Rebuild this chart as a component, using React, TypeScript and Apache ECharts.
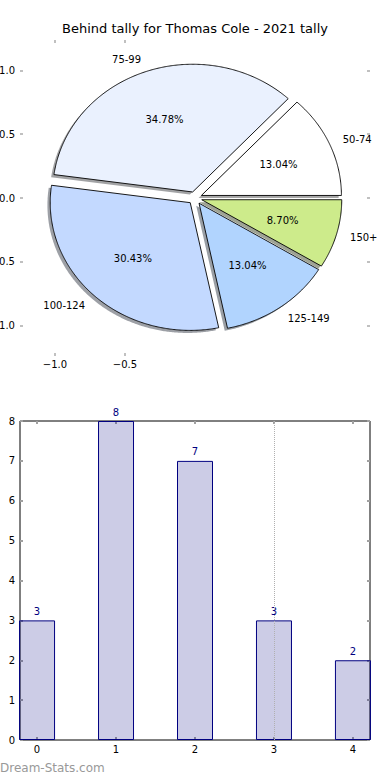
import React, { useEffect, useRef } from "react";
import * as echarts from "echarts";

const TITLE = "Behind tally for Thomas Cole - 2021 tally";
const WATERMARK = "Dream-Stats.com";

const pieLabels = ["50-74", "75-99", "100-124", "125-149", "150+"];
const pieValues = [3, 8, 7, 3, 2];
const pieColors = ["#FFFFFF", "#EAF1FE", "#C3D9FF", "#B1D4FE", "#CDEB8B"];
const pieXTicks = [-1, -0.5];
const pieYTicks = [-1, -0.5, 0, 0.5, 1];

const barCategories = [0, 1, 2, 3, 4];
const barValues = [3, 8, 7, 3, 2];
const markerX = [3];

const EXPLODE = 0.05;
const LABEL_DIST = 1.1;
const PCT_DIST = 0.6;
const SHADOW_OFF = -0.02;

const FONT = "DejaVu Sans";

function shadowColor(hex: string): string {
  const h = hex.replace("#", "");
  const r = parseInt(h.slice(0, 2), 16);
  const g = parseInt(h.slice(2, 4), 16);
  const b = parseInt(h.slice(4, 6), 16);
  return `rgba(${Math.round(r * 0.3)},${Math.round(g * 0.3)},${Math.round(b * 0.3)},0.5)`;
}

function fmtTick(v: number): string {
  const s = Math.abs(v).toFixed(1);
  return v < 0 ? "\u2212" + s : s;
}

export default function App() {
  const ref = useRef<HTMLDivElement>(null);

  useEffect(() => {
    document.body.style.margin = "0";
    if (!ref.current) return;
    const chart = echarts.init(ref.current, null, { renderer: "svg" });

    const total = pieValues.reduce((a, b) => a + b, 0);
    const starts: number[] = [];
    let acc = 0;
    for (const v of pieValues) {
      starts.push((acc / total) * 360);
      acc += v;
    }

    const wedge = (i: number, api: any, dx: number, dy: number) => {
      const t1 = starts[i];
      const t2 = t1 + (pieValues[i] / total) * 360;
      const mid = (((t1 + t2) / 2) * Math.PI) / 180;
      const ex = EXPLODE * Math.cos(mid) + dx;
      const ey = EXPLODE * Math.sin(mid) + dy;
      const pts: number[][] = [api.coord([ex, ey])];
      const n = Math.max(4, Math.ceil((t2 - t1) * 2));
      for (let k = 0; k <= n; k++) {
        const a = ((t1 + ((t2 - t1) * k) / n) * Math.PI) / 180;
        pts.push(api.coord([ex + Math.cos(a), ey + Math.sin(a)]));
      }
      return { pts, mid };
    };

    const pieData = pieValues.map((v, i) => [0, 0, v, i]);

    const tickStyle = { color: "#c0c0c0", width: 2 };
    const barTickStyle = { color: "#a0a0a0", width: 2 };
    const noLine = { show: false, onZero: false };

    chart.setOption({
      animation: false,
      textStyle: { fontFamily: FONT },
      title: {
        text: TITLE,
        left: "center",
        top: 22,
        padding: 0,
        textStyle: { fontSize: 13, fontWeight: "normal", color: "#000", fontFamily: FONT },
      },
      graphic: [
        {
          type: "text",
          left: 0,
          top: 762,
          style: { text: WATERMARK, fill: "#999999", font: `12px ${FONT}` },
        },
      ],
      grid: [
        { left: 20, right: 20, top: 40, height: 316, show: false, outerBoundsMode: "none", containLabel: false },
        {
          left: 20,
          right: 20,
          top: 421,
          bottom: 40,
          show: true,
          borderColor: "#000",
          borderWidth: 1,
          backgroundColor: "transparent",
          outerBoundsMode: "none",
          containLabel: false,
        },
      ],
      xAxis: [
        {
          gridIndex: 0,
          type: "value",
          min: -1.25,
          max: 1.25,
          position: "bottom",
          axisLine: noLine,
          splitLine: { show: false },
          axisTick: { show: true, inside: true, length: 3, customValues: pieXTicks, lineStyle: tickStyle },
          axisLabel: { show: true, customValues: pieXTicks, margin: 3, fontSize: 10, color: "#000", formatter: (v: number) => fmtTick(v) },
        },
        {
          gridIndex: 0,
          type: "value",
          min: -1.25,
          max: 1.25,
          position: "top",
          axisLine: noLine,
          splitLine: { show: false },
          axisTick: { show: true, inside: true, length: 3, customValues: pieXTicks, lineStyle: tickStyle },
          axisLabel: { show: false },
        },
        {
          gridIndex: 1,
          type: "value",
          min: -0.216,
          max: 4.216,
          position: "bottom",
          axisLine: noLine,
          splitLine: { show: false },
          axisTick: { show: true, inside: true, length: 3, customValues: barCategories, lineStyle: barTickStyle },
          axisLabel: { show: true, customValues: barCategories, margin: 4, fontSize: 10, color: "#000", formatter: (v: number) => String(v) },
        },
        {
          gridIndex: 1,
          type: "value",
          min: -0.216,
          max: 4.216,
          position: "top",
          axisLine: noLine,
          splitLine: { show: false },
          axisTick: { show: true, inside: true, length: 3, customValues: barCategories, lineStyle: barTickStyle },
          axisLabel: { show: false },
        },
      ],
      yAxis: [
        {
          gridIndex: 0,
          type: "value",
          min: -1.237,
          max: 1.237,
          position: "left",
          axisLine: noLine,
          splitLine: { show: false },
          axisTick: { show: true, inside: true, length: 3, customValues: pieYTicks, lineStyle: tickStyle },
          axisLabel: { show: true, customValues: pieYTicks, margin: 5, fontSize: 10, color: "#000", formatter: (v: number) => fmtTick(v) },
        },
        {
          gridIndex: 0,
          type: "value",
          min: -1.237,
          max: 1.237,
          position: "right",
          axisLine: noLine,
          splitLine: { show: false },
          axisTick: { show: true, inside: true, length: 3, customValues: pieYTicks, lineStyle: tickStyle },
          axisLabel: { show: false },
        },
        {
          gridIndex: 1,
          type: "value",
          min: 0,
          max: 8,
          interval: 1,
          position: "left",
          axisLine: noLine,
          splitLine: { show: false },
          axisTick: { show: true, inside: true, length: 3, lineStyle: barTickStyle },
          axisLabel: { show: true, margin: 5, fontSize: 10, color: "#000" },
        },
        {
          gridIndex: 1,
          type: "value",
          min: 0,
          max: 8,
          interval: 1,
          position: "right",
          axisLine: noLine,
          splitLine: { show: false },
          axisTick: { show: true, inside: true, length: 3, lineStyle: barTickStyle },
          axisLabel: { show: false },
        },
      ],
      series: [
        {
          type: "custom",
          name: "shadow",
          xAxisIndex: 0,
          yAxisIndex: 0,
          encode: { x: 0, y: 1 },
          data: pieData,
          silent: true,
          renderItem: (params: any, api: any) => {
            const i = params.dataIndex;
            const { pts } = wedge(i, api, SHADOW_OFF, SHADOW_OFF);
            return {
              type: "polygon",
              shape: { points: pts },
              style: { fill: shadowColor(pieColors[i]), stroke: null },
            };
          },
        },
        {
          type: "custom",
          name: "pie",
          xAxisIndex: 0,
          yAxisIndex: 0,
          encode: { x: 0, y: 1 },
          data: pieData,
          renderItem: (params: any, api: any) => {
            const i = params.dataIndex;
            const { pts, mid } = wedge(i, api, 0, 0);
            const c = Math.cos(mid);
            const s = Math.sin(mid);
            const lp = api.coord([(EXPLODE + LABEL_DIST) * c, (EXPLODE + LABEL_DIST) * s]);
            const pp = api.coord([(EXPLODE + PCT_DIST) * c, (EXPLODE + PCT_DIST) * s]);
            const pct = ((api.value(2) / total) * 100).toFixed(2) + "%";
            return {
              type: "group",
              children: [
                {
                  type: "polygon",
                  shape: { points: pts },
                  style: { fill: pieColors[i], stroke: "#000", lineWidth: 0.9 },
                },
                {
                  type: "text",
                  x: lp[0],
                  y: lp[1],
                  style: {
                    text: pieLabels[i],
                    fill: "#000",
                    font: `10px ${FONT}`,
                    align: c > 0 ? "left" : "right",
                    verticalAlign: "middle",
                  },
                },
                {
                  type: "text",
                  x: pp[0],
                  y: pp[1],
                  style: {
                    text: pct,
                    fill: "#000",
                    font: `10px ${FONT}`,
                    align: "center",
                    verticalAlign: "middle",
                  },
                },
              ],
            };
          },
        },
        {
          type: "bar",
          xAxisIndex: 2,
          yAxisIndex: 2,
          data: barCategories.map((c, i) => [c, barValues[i]]),
          barWidth: 36,
          clip: true,
          itemStyle: { color: "rgba(0,0,128,0.2)", borderColor: "#000080", borderWidth: 1 },
          label: {
            show: true,
            position: "top",
            distance: 4,
            fontSize: 10,
            color: "#000080",
            fontFamily: FONT,
            formatter: (p: any) => String(p.value[1]),
          },
          markLine: {
            silent: true,
            symbol: "none",
            label: { show: false },
            lineStyle: { color: "#b0b0b0", type: "dotted", width: 1 },
            data: markerX.map((x) => ({ xAxis: x })),
          },
        },
      ],
    });

    return () => chart.dispose();
  }, []);

  return <div ref={ref} style={{ width: 390, height: 780 }} />;
}
